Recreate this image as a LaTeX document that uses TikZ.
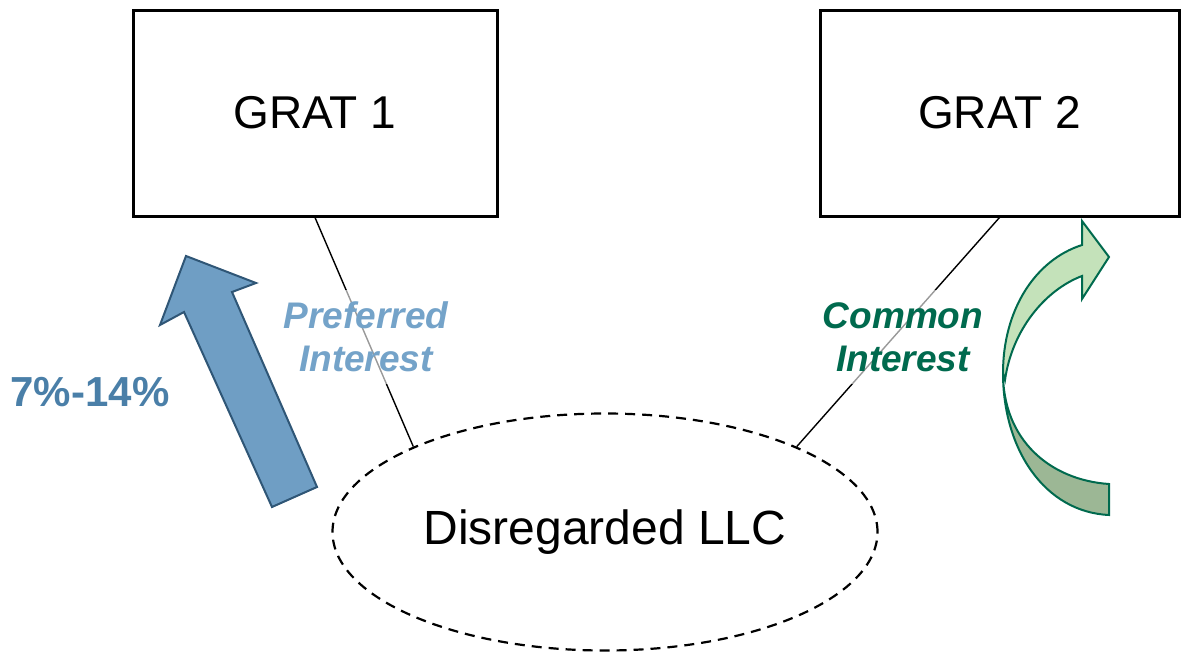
\documentclass[tikz,border=0pt]{standalone}
\usepackage{fontspec}
\setmainfont{Liberation Sans}
\usepackage{xcolor}
\usetikzlibrary{positioning,calc,shapes.geometric}
\definecolor{steelfill}{HTML}{6F9EC4}
\definecolor{steeledge}{HTML}{2F5676}
\definecolor{steeltext}{HTML}{4A7FA8}
\definecolor{preftext}{HTML}{74A3C9}
\definecolor{pinegreen}{HTML}{006A4E}
\definecolor{mintlight}{HTML}{C4E2BA}
\definecolor{mintdark}{HTML}{9CB795}

\begin{document}
\begin{tikzpicture}[x=1pt,y=-1pt,
  trustbox/.style={draw=black, line width=3pt, minimum width=364pt, minimum height=206pt, inner sep=0pt,
    font=\fontsize{46}{52}\selectfont},
  link/.style={black, line width=1.4pt},
  tag/.style={fill=white, fill opacity=0.6, text opacity=1, align=center, inner xsep=4pt, inner ysep=12pt,
    font=\fontsize{37}{43}\selectfont\bfseries\itshape}]
  \useasboundingbox (0,0) rectangle (1181,654);
  % trusts
  \node[trustbox] (grat1) at (315,113) {\raisebox{-3pt}{GRAT 1}};
  \node[trustbox, minimum width=359pt] (grat2) at (999.5,113) {\raisebox{-3pt}{GRAT 2}};
  % entity
  \node[ellipse, draw=black, line width=2.2pt, dash pattern=on 10pt off 7pt, minimum width=545pt,
    minimum height=237pt, inner sep=0pt, font=\fontsize{48}{54}\selectfont] (llc) at (605,532)
    {\raisebox{-8pt}{Disregarded LLC}};
  % ownership links
  \draw[link] (grat1.south) -- (llc.156);
  \draw[link] (grat2.south) -- (llc.24);
  \node[tag, text=preftext] (pref) at (366,337) {Preferred\\Interest};
  \node[tag, text=pinegreen] (common) at (903,337) {Common\\Interest};
  \node[text=steeltext, font=\fontsize{42}{48}\selectfont\bfseries] (rate) at (90,392) {7\%-14\%};
  % blue arrow
  \draw[fill=steelfill, draw=steeledge, line width=2pt, line join=miter]
    (186,256) -- (256,283) -- (232,292) -- (317,487) -- (272,507) -- (184,312) -- (160,325) -- cycle;
  % green curved arrow: back face
  \draw[fill=mintdark, draw=pinegreen, line width=2pt]
    (1003,373) .. controls (1003,440) and (1050,480) .. (1109,484) -- (1109,515)
    .. controls (1045,512) and (1003,450) .. (1003,373) -- cycle;
  % green curved arrow: front face
  \draw[fill=mintlight, draw=pinegreen, line width=2pt, line join=miter]
    (1003,373) .. controls (1003,310) and (1035,260) .. (1082,245) -- (1082,221) -- (1109,257)
    -- (1082,299) -- (1082,276) .. controls (1045,290) and (1012,330) .. (1005,380) -- cycle;
\end{tikzpicture}
\end{document}
